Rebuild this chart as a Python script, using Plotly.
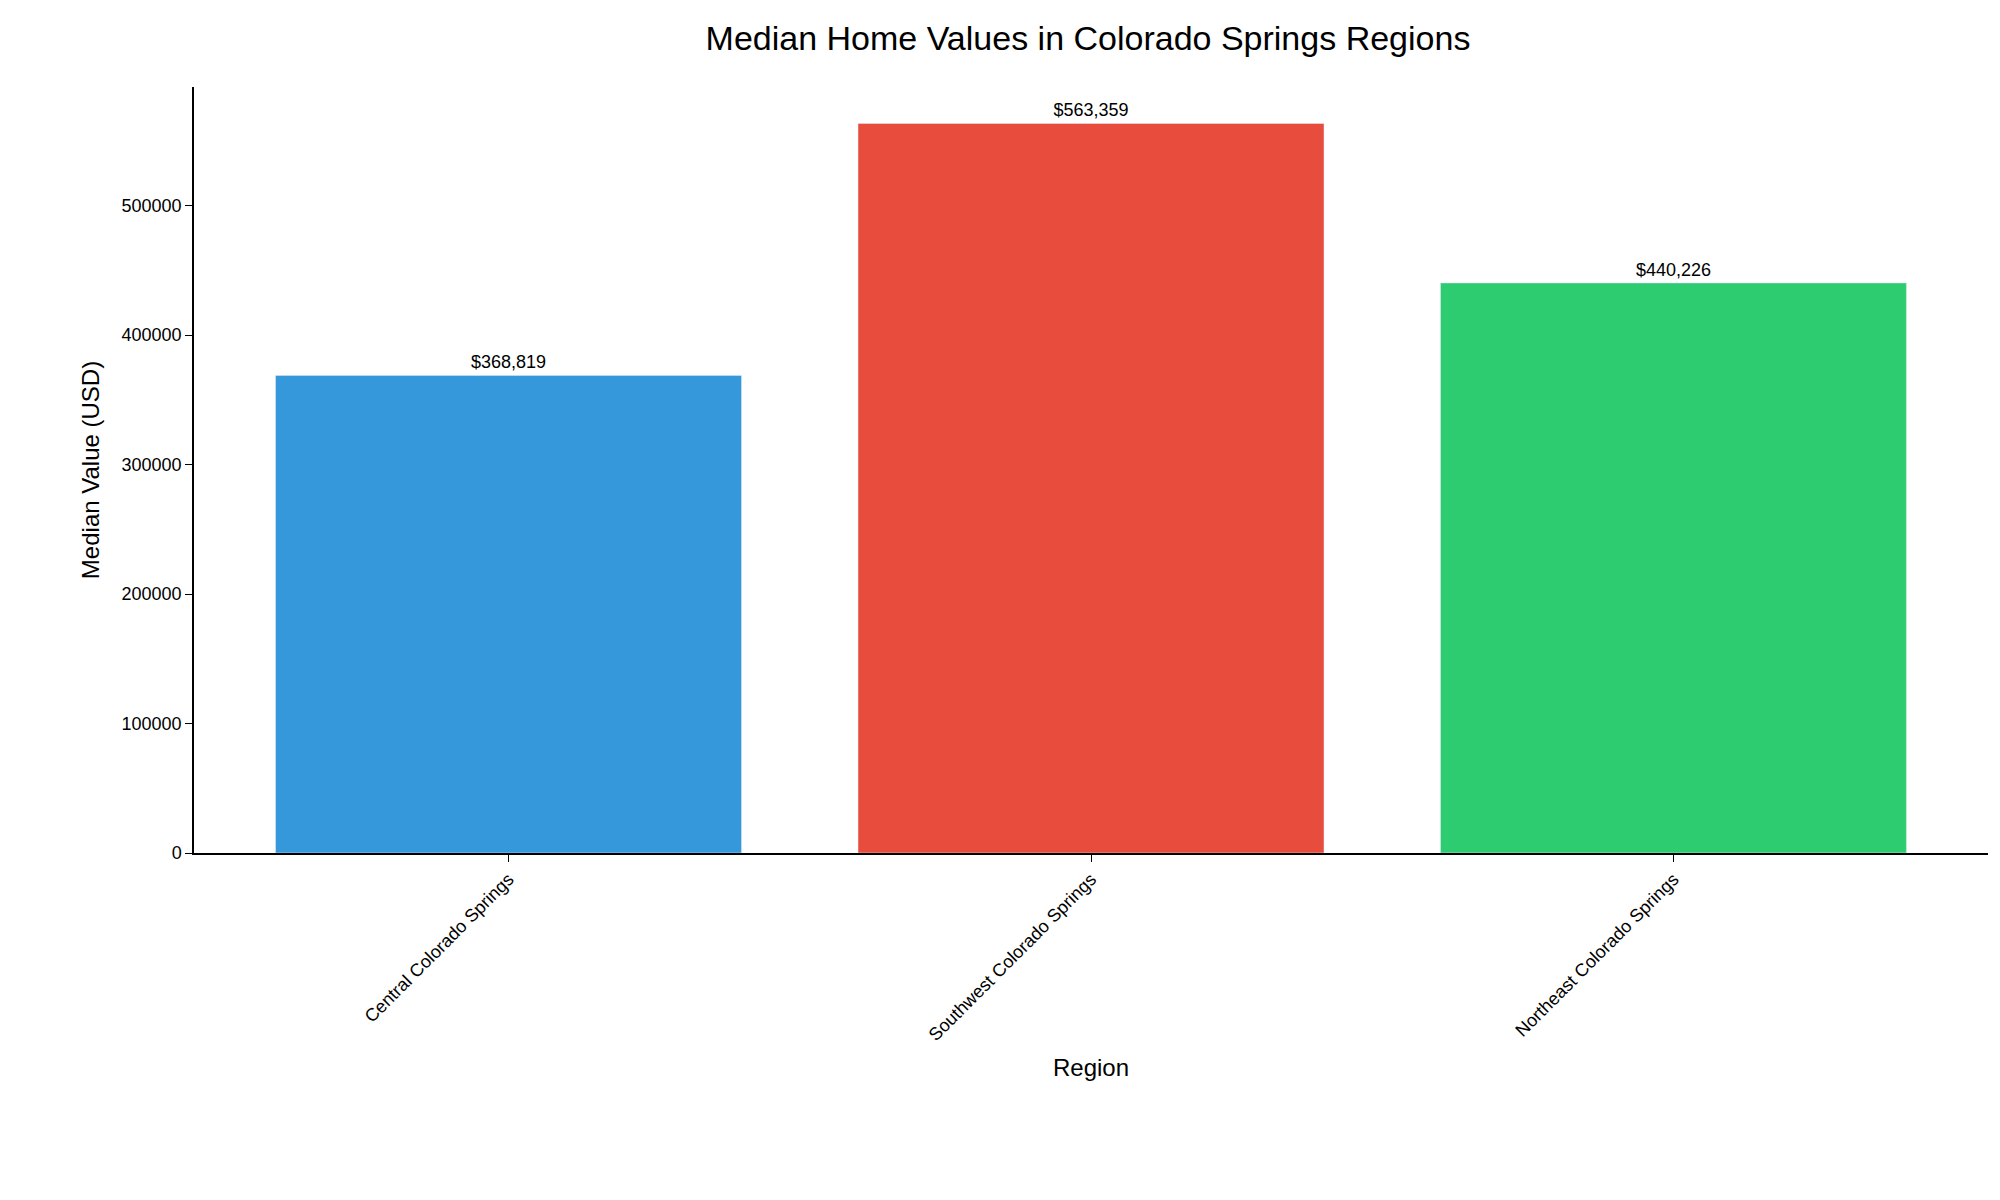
import plotly.graph_objects as go

regions = ["Central Colorado Springs", "Southwest Colorado Springs", "Northeast Colorado Springs"]
values = [368819, 563359, 440226]
colors = ["#3498db", "#e74c3c", "#2ecc71"]

labels = ["${:,}".format(v) for v in values]

fig = go.Figure(go.Bar(
    x=list(range(len(regions))),
    y=values,
    width=0.8,
    marker_color=colors,
    text=labels,
    textposition="outside",
    textfont=dict(size=18, color="black"),
    cliponaxis=False,
))

fig.update_layout(
    width=2000, height=1200,
    plot_bgcolor="white", paper_bgcolor="white",
    font=dict(family="Liberation Sans, Arial", color="black", size=18),
    title=dict(text="Median Home Values in Colorado Springs Regions",
               x=0.54, xanchor="center", y=0.985, yanchor="top",
               font=dict(size=34)),
    margin=dict(l=186, r=20, t=79, b=355),
    showlegend=False,
)
fig.update_xaxes(
    range=[-0.54, 2.54],
    tickvals=list(range(len(regions))), ticktext=regions,
    tickangle=-45, ticks="outside", ticklen=7, tickcolor="black",
    showline=True, linecolor="black", linewidth=1.5,
    showgrid=False, zeroline=False,
    title=dict(text="Region", font=dict(size=24)),
)
fig.update_yaxes(
    range=[0, 563359 * 1.05],
    tickvals=[0, 100000, 200000, 300000, 400000, 500000],
    ticktext=["0", "100000", "200000", "300000", "400000", "500000"],
    ticks="outside", ticklen=7, tickcolor="black",
    showline=True, linecolor="black", linewidth=1.5,
    showgrid=False, zeroline=False,
    title=dict(text="Median Value (USD)", font=dict(size=24)),
)

fig.write_html("out.html")
